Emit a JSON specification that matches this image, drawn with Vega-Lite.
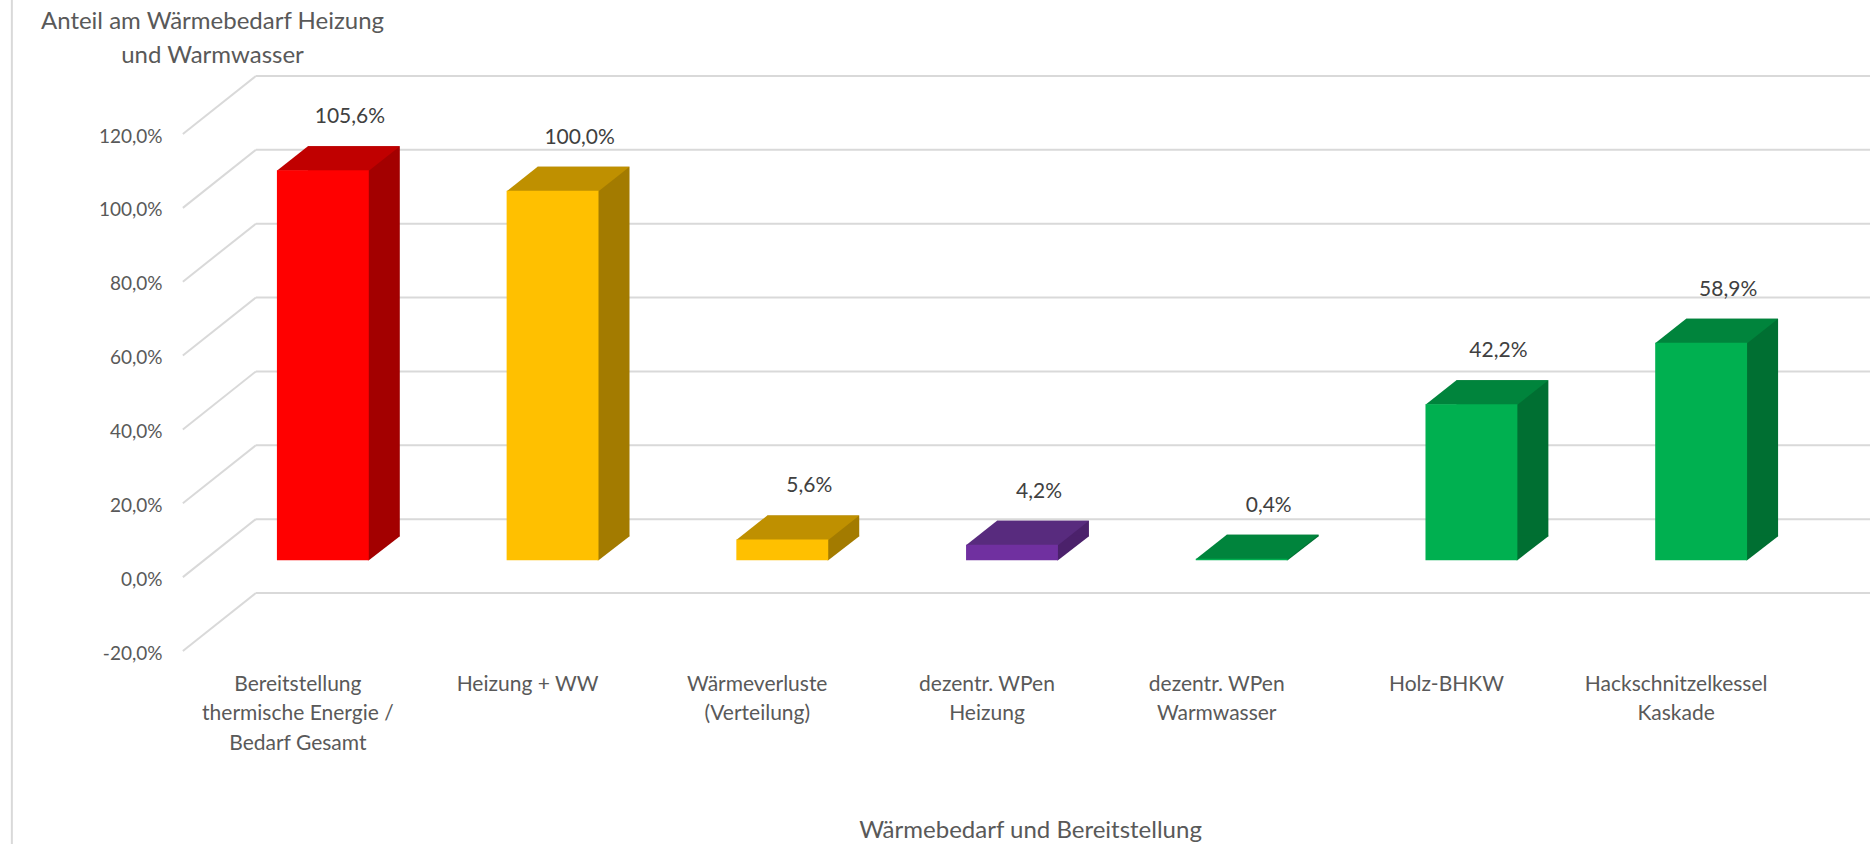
{
  "$schema": "https://vega.github.io/schema/vega-lite/v6.json",
  "width": 1608,
  "height": 517,
  "autosize": {"type": "none"},
  "padding": {"left": 208, "top": 117, "right": 54, "bottom": 210},
  "background": "white",
  "config": {
    "view": {"stroke": null},
    "font": "Lato",
    "locale": {"number": {"decimal": ",", "thousands": ".", "grouping": [3], "currency": ["", " €"], "minus": "-"}},
    "axis": {"domain": false, "ticks": false, "grid": false, "labelFont": "Lato", "titleFont": "Lato", "labelColor": "#595959", "titleColor": "#595959", "titleFontWeight": "normal"}
  },
  "datasets": {
    "bars": [
      {"cat": "Bereitstellung\nthermische Energie /\nBedarf Gesamt", "value": 1.056},
      {"cat": "Heizung + WW", "value": 1.0},
      {"cat": "Wärmeverluste\n(Verteilung)", "value": 0.056},
      {"cat": "dezentr. WPen\nHeizung", "value": 0.042},
      {"cat": "dezentr. WPen\nWarmwasser", "value": 0.004},
      {"cat": "Holz-BHKW", "value": 0.422},
      {"cat": "Hackschnitzelkessel\nKaskade", "value": 0.589}
    ],
    "grid": [
      {"value": -0.2}, {"value": 0}, {"value": 0.2}, {"value": 0.4},
      {"value": 0.6}, {"value": 0.8}, {"value": 1.0}, {"value": 1.2}
    ],
    "frame": [{"edge": "left"}]
  },
  "layer": [
    {
      "data": {"name": "bars"},
      "mark": {"type": "bar", "opacity": 0},
      "encoding": {
        "x": {"field": "cat", "type": "nominal", "sort": null,
              "scale": {"type": "band", "domain": ["Bereitstellung\nthermische Energie /\nBedarf Gesamt", "Heizung + WW", "Wärmeverluste\n(Verteilung)", "dezentr. WPen\nHeizung", "dezentr. WPen\nWarmwasser", "Holz-BHKW", "Hackschnitzelkessel\nKaskade"], "paddingInner": 0.6, "paddingOuter": 0.3},
              "axis": {"title": "Wärmebedarf und Bereitstellung", "labelExpr": "split(datum.label, '\\n')", "labelAngle": 0, "labelAlign": "center", "labelPadding": 50, "labelOffset": -25, "labelFontSize": 21, "labelLineHeight": 29.5, "labelBaseline": "middle", "labelLimit": 400, "titleFontSize": 24, "titleX": 822, "titleY": 196, "titleBaseline": "middle", "titleAlign": "center"}},
        "y": {"field": "value", "type": "quantitative",
              "scale": {"domain": [-0.2, 1.2], "nice": false, "zero": false},
              "axis": {"title": ["Anteil am Wärmebedarf Heizung", "und Warmwasser"], "format": ".1%", "values": [-0.2, 0, 0.2, 0.4, 0.6, 0.8, 1.0, 1.2], "labelPadding": 46, "labelOffset": 19, "labelFontSize": 19, "titleAngle": 0, "titleAlign": "center", "titleBaseline": "middle", "titleX": 4, "titleY": -96, "titleFontSize": 24, "titleLineHeight": 34}},
        "y2": {"datum": 0}
      }
    },
    {
      "data": {"name": "frame"},
      "mark": {"type": "rule", "color": "#D9D9D9", "strokeWidth": 2, "xOffset": -311, "x2Offset": -311, "yOffset": -117, "y2Offset": 210},
      "encoding": {
        "x": {"datum": "Bereitstellung\nthermische Energie /\nBedarf Gesamt", "type": "nominal", "bandPosition": 0.5},
        "x2": {"datum": "Bereitstellung\nthermische Energie /\nBedarf Gesamt", "bandPosition": 0.5},
        "y": {"datum": 1.2, "type": "quantitative"},
        "y2": {"datum": -0.2}
      }
    },
    {
      "data": {"name": "grid"},
      "mark": {"type": "rule", "color": "#D9D9D9", "strokeWidth": 2, "xOffset": -67, "x2Offset": 169, "yOffset": -41, "y2Offset": -41},
      "encoding": {
        "x": {"datum": "Bereitstellung\nthermische Energie /\nBedarf Gesamt", "type": "nominal", "bandPosition": 0.5},
        "x2": {"datum": "Hackschnitzelkessel\nKaskade", "bandPosition": 0.5},
        "y": {"field": "value", "type": "quantitative"},
        "y2": {"field": "value"}
      }
    },
    {
      "data": {"name": "grid"},
      "mark": {"type": "rule", "color": "#D9D9D9", "strokeWidth": 2, "xOffset": -140, "x2Offset": -67, "yOffset": 17, "y2Offset": -41},
      "encoding": {
        "x": {"datum": "Bereitstellung\nthermische Energie /\nBedarf Gesamt", "type": "nominal", "bandPosition": 0.5},
        "x2": {"datum": "Bereitstellung\nthermische Energie /\nBedarf Gesamt", "bandPosition": 0.5},
        "y": {"field": "value", "type": "quantitative"},
        "y2": {"field": "value"}
      }
    },
    {
      "data": {"name": "bars"},
      "mark": {"type": "bar", "xOffset": 31, "yOffset": -24, "y2Offset": -24},
      "encoding": {
        "x": {"field": "cat", "type": "nominal", "sort": null},
        "y": {"field": "value", "type": "quantitative"},
        "y2": {"datum": 0},
        "color": {"field": "cat", "type": "nominal", "legend": null,
                  "scale": {"domain": ["Bereitstellung\nthermische Energie /\nBedarf Gesamt", "Heizung + WW", "Wärmeverluste\n(Verteilung)", "dezentr. WPen\nHeizung", "dezentr. WPen\nWarmwasser", "Holz-BHKW", "Hackschnitzelkessel\nKaskade"],
                            "range": ["#A30000", "#A37B00", "#A37B00", "#4B216B", "#006F32", "#006F32", "#006F32"]}}
      }
    },
    {
      "data": {"name": "bars"},
      "mark": {"type": "point", "shape": "M 45 0 L 46 0 L 77 -24 L 77 -24.5 L 45 -24.5 Z", "size": 4, "filled": true, "opacity": 1, "strokeWidth": 0},
      "encoding": {
        "x": {"field": "cat", "type": "nominal", "sort": null},
        "y": {"datum": 0, "type": "quantitative"},
        "color": {"field": "cat", "type": "nominal", "legend": null,
                  "scale": {"domain": ["Bereitstellung\nthermische Energie /\nBedarf Gesamt", "Heizung + WW", "Wärmeverluste\n(Verteilung)", "dezentr. WPen\nHeizung", "dezentr. WPen\nWarmwasser", "Holz-BHKW", "Hackschnitzelkessel\nKaskade"],
                            "range": ["#A30000", "#A37B00", "#A37B00", "#4B216B", "#006F32", "#006F32", "#006F32"]}}
      }
    },
    {
      "data": {"name": "bars"},
      "mark": {"type": "point", "shape": "M -46 0.5 L 46 0.5 L 77 -24 L -15 -24 Z", "size": 4, "filled": true, "opacity": 1, "strokeWidth": 0},
      "encoding": {
        "x": {"field": "cat", "type": "nominal", "sort": null},
        "y": {"field": "value", "type": "quantitative"},
        "color": {"field": "cat", "type": "nominal", "legend": null,
                  "scale": {"domain": ["Bereitstellung\nthermische Energie /\nBedarf Gesamt", "Heizung + WW", "Wärmeverluste\n(Verteilung)", "dezentr. WPen\nHeizung", "dezentr. WPen\nWarmwasser", "Holz-BHKW", "Hackschnitzelkessel\nKaskade"],
                            "range": ["#C00000", "#BF9000", "#BF9000", "#582B7E", "#00843C", "#00843C", "#00843C"]}}
      }
    },
    {
      "data": {"name": "bars"},
      "mark": {"type": "bar"},
      "encoding": {
        "x": {"field": "cat", "type": "nominal", "sort": null},
        "y": {"field": "value", "type": "quantitative"},
        "y2": {"datum": 0},
        "color": {"field": "cat", "type": "nominal", "legend": null,
                  "scale": {"domain": ["Bereitstellung\nthermische Energie /\nBedarf Gesamt", "Heizung + WW", "Wärmeverluste\n(Verteilung)", "dezentr. WPen\nHeizung", "dezentr. WPen\nWarmwasser", "Holz-BHKW", "Hackschnitzelkessel\nKaskade"],
                            "range": ["#FF0000", "#FFC000", "#FFC000", "#7030A0", "#00B050", "#00B050", "#00B050"]}}
      }
    },
    {
      "data": {"name": "bars"},
      "mark": {"type": "text", "dx": 27, "dy": -53, "fontSize": 21, "color": "#404040", "font": "Lato", "baseline": "middle"},
      "encoding": {
        "x": {"field": "cat", "type": "nominal", "sort": null},
        "y": {"field": "value", "type": "quantitative"},
        "text": {"field": "value", "type": "quantitative", "format": ".1%"}
      }
    }
  ],
  "resolve": {"scale": {"color": "independent"}}
}
